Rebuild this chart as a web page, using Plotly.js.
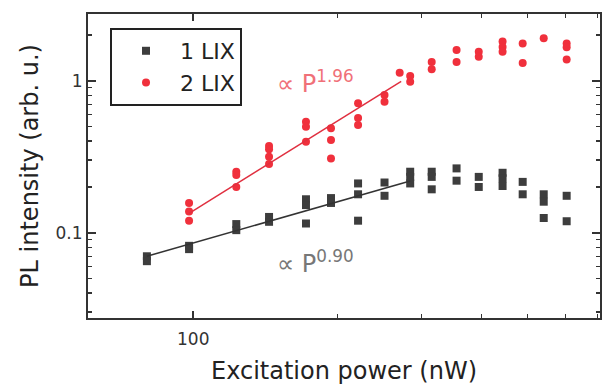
<!DOCTYPE html>
<html>
<head>
<meta charset="utf-8">
<script src="https://cdn.plot.ly/plotly-3.0.1.min.js"></script>
<style>html,body{margin:0;padding:0;background:#fff;}#chart{width:605px;height:385px;}</style>
</head>
<body>
<div id="chart"></div>
<script>
// Excitation power (nW) and PL intensity (arb. u.)
const lix1Power = [80, 80, 98, 98, 123, 123, 144, 144, 172, 172, 172, 194, 194,
  221, 221, 221, 251, 251, 284, 284, 284, 315, 315, 315, 355, 355, 395, 395,
  443, 443, 443, 488, 488, 540, 540, 540, 603, 603];
const lix1Intensity = [0.070, 0.065, 0.082, 0.078, 0.114, 0.104, 0.127, 0.118, 0.166, 0.152, 0.115, 0.169, 0.157,
  0.211, 0.179, 0.120, 0.214, 0.175, 0.252, 0.233, 0.211, 0.252, 0.233, 0.193, 0.265, 0.220, 0.233, 0.200,
  0.248, 0.228, 0.203, 0.216, 0.179, 0.179, 0.160, 0.125, 0.175, 0.119];

const lix2Power = [98, 98, 98, 123, 123, 123, 144, 144, 144, 144, 172, 172, 172, 194, 194, 194,
  221, 221, 221, 251, 251, 270, 284, 284, 315, 315, 355, 355, 395, 395,
  443, 443, 443, 488, 488, 540, 603, 603, 603];
const lix2Intensity = [0.157, 0.138, 0.120, 0.252, 0.240, 0.200, 0.372, 0.354, 0.316, 0.283, 0.537, 0.498, 0.397, 0.486, 0.407, 0.308,
  0.710, 0.569, 0.511, 0.805, 0.728, 1.13, 1.074, 0.985, 1.33, 1.19, 1.59, 1.33, 1.55, 1.44,
  1.81, 1.67, 1.55, 1.76, 1.31, 1.90, 1.76, 1.66, 1.38];

// power-law fits: I = i0 * (P / p0)^exponent over [p0, pEnd]
const fit1Exponent = 0.90, fit1P = [80, 284], fit1I0 = 0.070;
const fit2Exponent = 1.96, fit2P = [98, 272], fit2I0 = 0.134;

const seriesNames = ['1 LIX', '2 LIX'];
const xTickVals = [100], xTickText = ['100'];
const yTickVals = [0.1, 1], yTickText = ['0.1', '1'];

function fitLine(pRange, i0, exponent) {
  return {x: pRange, y: pRange.map(p => i0 * Math.pow(p / pRange[0], exponent))};
}
const f1 = fitLine(fit1P, fit1I0, fit1Exponent);
const f2 = fitLine(fit2P, fit2I0, fit2Exponent);

const FONT = 'DejaVu Sans, Arial, sans-serif';
const data = [
  {x: lix1Power, y: lix1Intensity, type: 'scatter', mode: 'markers', name: seriesNames[0],
   marker: {symbol: 'square', size: 8, color: '#3d3d3d'}},
  {x: lix2Power, y: lix2Intensity, type: 'scatter', mode: 'markers', name: seriesNames[1],
   marker: {symbol: 'circle', size: 8, color: '#f0303c'}},
  {x: f1.x, y: f1.y, type: 'scatter', mode: 'lines', showlegend: false,
   line: {color: '#333333', width: 1.5}},
  {x: f2.x, y: f2.y, type: 'scatter', mode: 'lines', showlegend: false,
   line: {color: '#e03040', width: 1.5}}
];

const minorX = [200, 300, 400, 500, 600, 700];
const minorY = [0.03, 0.04, 0.05, 0.06, 0.07, 0.08, 0.09, 0.2, 0.3, 0.4, 0.5, 0.6, 0.7, 0.8, 0.9, 2];

const layout = {
  width: 605, height: 385,
  margin: {l: 88, r: 5, t: 14, b: 67},
  paper_bgcolor: '#fff', plot_bgcolor: '#fff',
  font: {family: FONT, color: '#222'},
  showlegend: true,
  legend: {x: 0.043, y: 0.954, xanchor: 'left', yanchor: 'top',
    bordercolor: '#222', borderwidth: 2, bgcolor: '#fff',
    font: {family: FONT, size: 22, color: '#222'}, itemwidth: 58},
  xaxis: {type: 'log', range: [1.78, 2.85],
    showgrid: false, zeroline: false,
    showline: true, linecolor: '#333', linewidth: 2, mirror: 'allticks',
    ticks: 'inside', ticklen: 7, tickwidth: 2, tickcolor: '#333',
    tickmode: 'array', tickvals: xTickVals, ticktext: xTickText,
    tickfont: {family: FONT, size: 17, color: '#333'}, ticklabelstandoff: 5,
    minor: {tickmode: 'array', tickvals: minorX, ticks: 'inside', ticklen: 4, tickwidth: 1.5, tickcolor: '#333', showgrid: false},
    title: {text: 'Excitation power (nW)', font: {family: FONT, size: 24, color: '#222'}, standoff: 16}},
  yaxis: {type: 'log', range: [-1.561, 0.439],
    showgrid: false, zeroline: false,
    showline: true, linecolor: '#333', linewidth: 2, mirror: 'allticks',
    ticks: 'inside', ticklen: 8, tickwidth: 2, tickcolor: '#333',
    tickmode: 'array', tickvals: yTickVals, ticktext: yTickText,
    tickfont: {family: FONT, size: 17, color: '#333'},
    minor: {tickmode: 'array', tickvals: minorY, ticks: 'inside', ticklen: 4, tickwidth: 1.5, tickcolor: '#333', showgrid: false},
    title: {text: 'PL intensity (arb. u.)', font: {family: FONT, size: 24, color: '#222'}, standoff: 10}},
  annotations: [
    {xref: 'paper', yref: 'paper', x: 0.365, y: 0.775, xanchor: 'left', yanchor: 'middle', showarrow: false,
     text: '\u221D P<sup>' + fit2Exponent.toFixed(2) + '</sup>', font: {family: FONT, size: 24, color: '#f07078'}},
    {xref: 'paper', yref: 'paper', x: 0.365, y: 0.184, xanchor: 'left', yanchor: 'middle', showarrow: false,
     text: '\u221D P<sup>' + fit1Exponent.toFixed(2) + '</sup>', font: {family: FONT, size: 24, color: '#777'}}
  ]
};

Plotly.newPlot('chart', data, layout, {displayModeBar: false, staticPlot: true});
</script>
</body>
</html>
